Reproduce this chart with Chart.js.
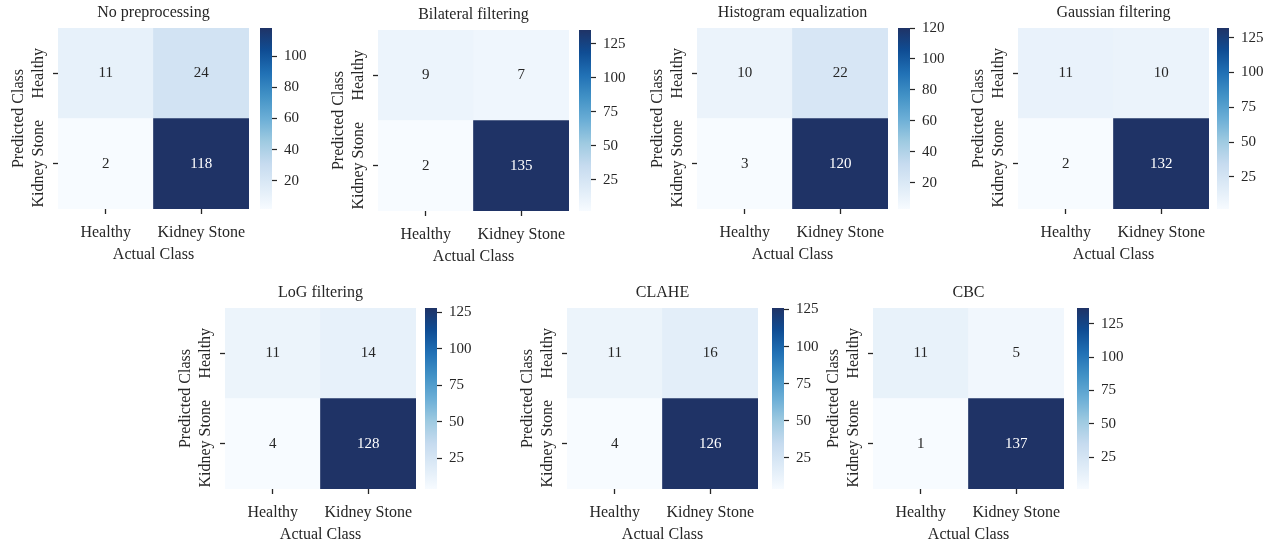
<!DOCTYPE html>
<html>
<head>
<meta charset="utf-8">
<script src="https://cdn.jsdelivr.net/npm/chart.js@4.4.0/dist/chart.umd.min.js"></script>
<style>
  body { margin: 0; background: #fff; overflow: hidden; }
  #wrap { position: relative; width: 1272px; height: 544px; }
  canvas { position: absolute; }
</style>
</head>
<body>
<div id="wrap"></div>
<script>
const classes = ['Healthy', 'Kidney Stone'];
const titles = ['No preprocessing', 'Bilateral filtering', 'Histogram equalization', 'Gaussian filtering',
    'LoG filtering', 'CLAHE', 'CBC'];

// rows = predicted (Healthy, Kidney Stone), cols = actual (Healthy, Kidney Stone)
const noPreprocessing = [[11, 24], [2, 118]];
const bilateral = [[9, 7], [2, 135]];
const histEqualization = [[10, 22], [3, 120]];
const gaussian = [[11, 10], [2, 132]];
const logFiltering = [[11, 14], [4, 128]];
const clahe = [[11, 16], [4, 126]];
const cbc = [[11, 5], [1, 137]];
const matrices = [noPreprocessing, bilateral, histEqualization, gaussian, logFiltering, clahe, cbc];

// colorbar tick step for each panel
const cbarSteps = [20, 25, 20, 25, 25, 25, 25];

// plot area left/top of each heatmap, and left of its colorbar
const panels = [
    {x: 58, y: 28, cb: 260},
    {x: 378, y: 30, cb: 579},
    {x: 697, y: 28, cb: 898},
    {x: 1018, y: 28, cb: 1217},
    {x: 225, y: 308, cb: 425},
    {x: 567, y: 308, cb: 772},
    {x: 873, y: 308, cb: 1077}
];
const AREA_W = 191, AREA_H = 181, TOP = 28, BOTTOM = 61, LEFT = 58;

const blues = ['#f7fbff', '#deebf7', '#c6dbef', '#9ecae1', '#6baed6', '#4292c6', '#2171b5', '#0f4d94', '#1f3366'];
const TEXT = '#262626';
const FONT = 'Liberation Serif';

Chart.defaults.font.family = FONT;
Chart.defaults.font.size = 16;
Chart.defaults.color = TEXT;

function hex(c) {
    return [1, 3, 5].map(i => parseInt(c.substr(i, 2), 16));
}

function bluesAt(t) {
    t = Math.max(0, Math.min(1, t));
    let pos = t * (blues.length - 1), i = Math.min(Math.floor(pos), blues.length - 2), f = pos - i;
    let a = hex(blues[i]), b = hex(blues[i + 1]);
    let rgb = a.map((v, k) => Math.round(v + (b[k] - v) * f));
    return 'rgb(' + rgb.join(',') + ')';
}

const heatText = {
    id: 'heatText',
    afterDatasetsDraw(chart) {
        const ctx = chart.ctx;
        ctx.save();
        ctx.textAlign = 'center';
        ctx.textBaseline = 'middle';
        ctx.font = '15px "' + FONT + '"';
        chart.data.datasets.forEach((ds, d) => {
            chart.getDatasetMeta(d).data.forEach((bar, i) => {
                ctx.fillStyle = ds.textColors[i];
                ctx.fillText(ds.counts[i], bar.x, (bar.y + bar.base) / 2);
            });
        });
        // rotated y tick labels
        const y = chart.scales.y, left = chart.chartArea.left;
        ctx.font = '16px "' + FONT + '"';
        ctx.fillStyle = TEXT;
        y.ticks.forEach(t => {
            ctx.save();
            ctx.translate(left - 19, y.getPixelForValue(t.value));
            ctx.rotate(-Math.PI / 2);
            ctx.fillText(classes[Math.round(1.5 - t.value)], 0, 0);
            ctx.restore();
        });
        ctx.restore();
    }
};

function addCanvas(left, top, w, h) {
    const c = document.createElement('canvas');
    c.width = w;
    c.height = h;
    c.style.left = left + 'px';
    c.style.top = top + 'px';
    c.style.width = w + 'px';
    c.style.height = h + 'px';
    document.getElementById('wrap').appendChild(c);
    return c;
}

matrices.forEach((m, p) => {
    const pos = panels[p];
    const flat = m[0].concat(m[1]);
    const vmin = Math.min(...flat), vmax = Math.max(...flat);
    const norm = v => (v - vmin) / (vmax - vmin);

    // one stacked dataset per predicted row, bottom row first
    const rows = [1, 0].map(r => ({
        data: [1, 1],
        counts: m[r],
        backgroundColor: m[r].map(v => bluesAt(norm(v))),
        textColors: m[r].map(v => norm(v) > 0.6 ? '#ffffff' : TEXT),
        borderWidth: 0,
        barPercentage: 1,
        categoryPercentage: 1
    }));

    new Chart(addCanvas(pos.x - LEFT, pos.y - TOP, LEFT + AREA_W, TOP + AREA_H + BOTTOM), {
        type: 'bar',
        data: {labels: classes, datasets: rows},
        options: {
            responsive: false,
            animation: false,
            events: [],
            layout: {padding: 0},
            plugins: {
                legend: {display: false},
                tooltip: {enabled: false},
                title: {
                    display: true,
                    text: titles[p],
                    fullSize: false,
                    padding: {top: 3, bottom: 5.8},
                    font: {size: 16, weight: 'normal'}
                }
            },
            scales: {
                x: {
                    stacked: true,
                    grid: {drawOnChartArea: false, offset: false, tickLength: 5, color: TEXT, tickWidth: 1.3},
                    border: {display: false},
                    ticks: {padding: 9, maxRotation: 0},
                    title: {display: true, text: 'Actual Class', padding: {top: 0, bottom: 5.5}},
                    afterFit: s => {
                        s.height = BOTTOM;
                        s.paddingLeft = 0;
                        s.paddingRight = 0;
                    }
                },
                y: {
                    stacked: true,
                    min: 0,
                    max: 2,
                    afterBuildTicks: s => { s.ticks = [{value: 0.5}, {value: 1.5}]; },
                    grid: {drawOnChartArea: false, tickLength: 5, color: TEXT, tickWidth: 1.3},
                    border: {display: false},
                    ticks: {display: false},
                    title: {display: true, text: 'Predicted Class', padding: {top: 9, bottom: 0}},
                    afterFit: s => {
                        s.width = LEFT;
                        s.paddingTop = 0;
                        s.paddingBottom = 0;
                    }
                }
            }
        },
        plugins: [heatText]
    });

    // colorbar
    const step = cbarSteps[p];
    new Chart(addCanvas(pos.cb, pos.y - TOP, 12 + 48, TOP + AREA_H + BOTTOM), {
        type: 'bar',
        data: {
            labels: [''],
            datasets: [{
                data: [[vmin, vmax]],
                borderWidth: 0,
                barPercentage: 1,
                categoryPercentage: 1,
                backgroundColor: ctx => {
                    const area = ctx.chart.chartArea;
                    if (!area) return blues[4];
                    const g = ctx.chart.ctx.createLinearGradient(0, area.bottom, 0, area.top);
                    blues.forEach((c, i) => g.addColorStop(i / (blues.length - 1), c));
                    return g;
                }
            }]
        },
        options: {
            responsive: false,
            animation: false,
            events: [],
            layout: {padding: {top: TOP, bottom: BOTTOM}},
            plugins: {legend: {display: false}, tooltip: {enabled: false}},
            scales: {
                x: {display: false},
                y: {
                    position: 'right',
                    min: vmin,
                    max: vmax,
                    afterBuildTicks: s => {
                        const t = [];
                        for (let v = step; v <= vmax; v += step) {
                            if (v >= vmin) t.push({value: v});
                        }
                        s.ticks = t;
                    },
                    grid: {drawOnChartArea: false, tickLength: 5, color: TEXT, tickWidth: 1.2},
                    border: {display: false},
                    ticks: {padding: 7, font: {size: 15}},
                    afterFit: s => { s.width = 48; }
                }
            }
        }
    });
});
</script>
</body>
</html>
